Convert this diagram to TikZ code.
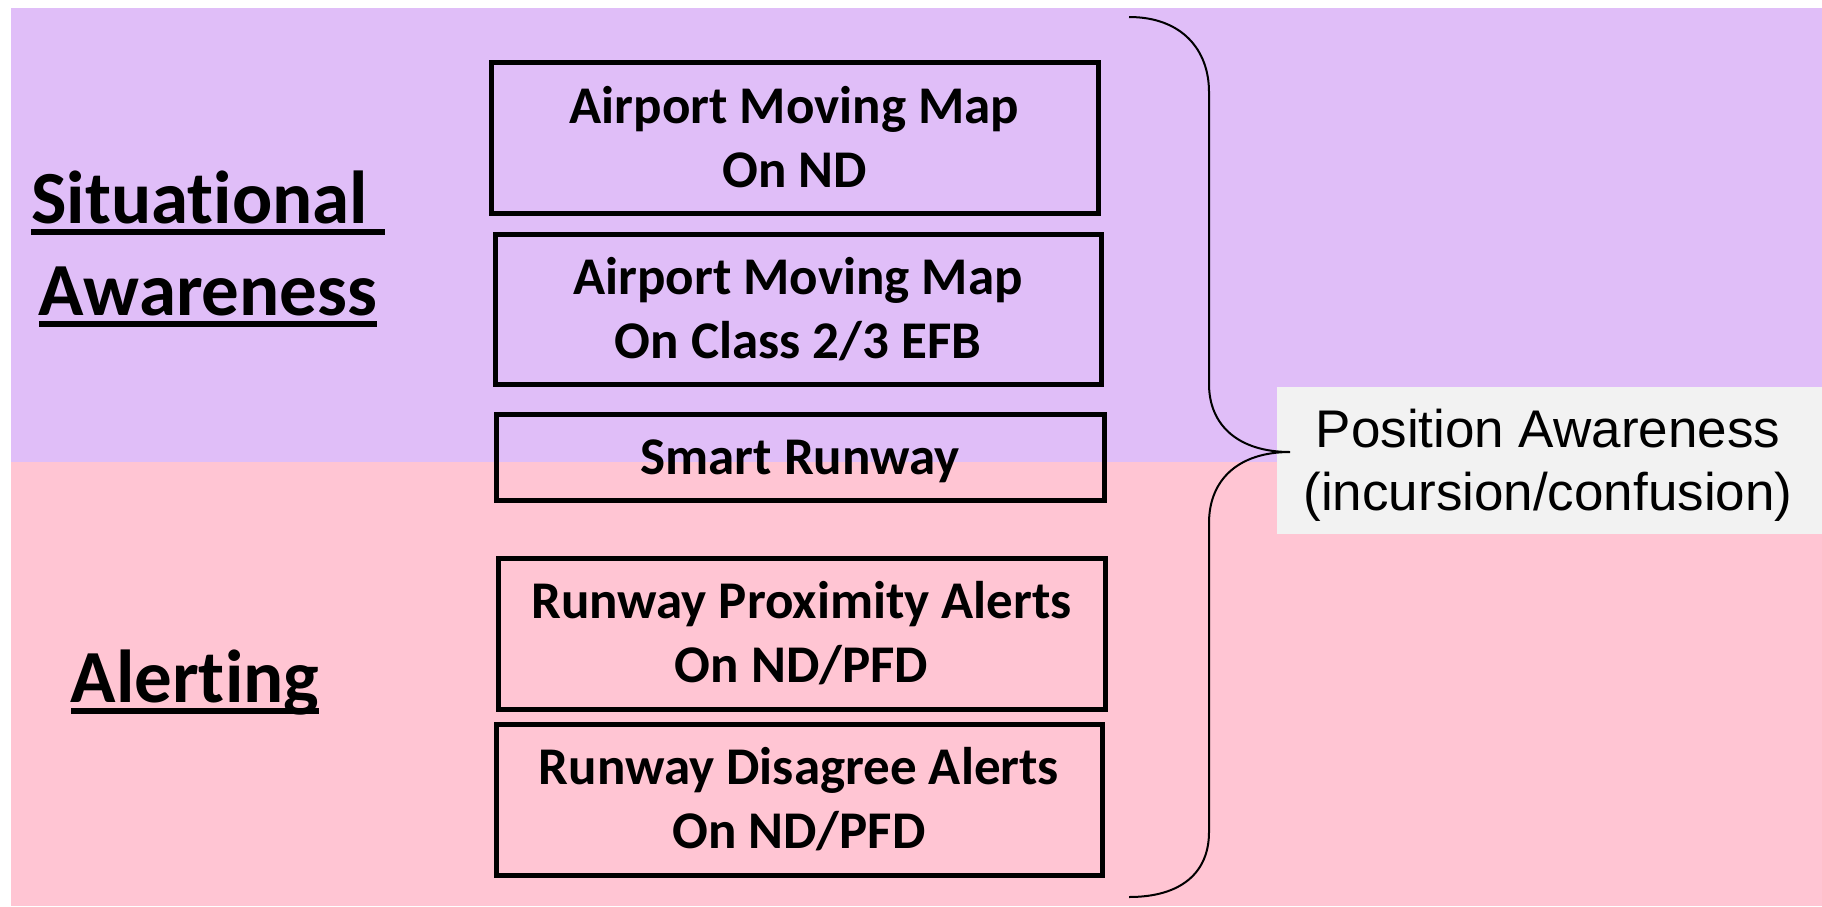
\documentclass[tikz,border=0pt]{standalone}
\usepackage{fontspec}
\setmainfont{Carlito}[Ligatures=NoCommon]
\newfontfamily\arialf{Liberation Sans}
\definecolor{bgpurple}{HTML}{E0BEF8}
\definecolor{bgpink}{HTML}{FFC5D3}
\definecolor{greybox}{HTML}{F2F2F2}
\newcommand\myul[1]{\setbox0=\hbox{#1}\rlap{\rule[-12pt]{\wd0}{6pt}}\box0}
\tikzset{
  itembox/.style={draw=black, line width=5pt, inner sep=0pt, align=center,
    font=\bfseries\fontsize{53}{64}\selectfont},
  heading/.style={inner sep=0pt, align=center, anchor=base,
    font=\bfseries\fontsize{75}{92}\selectfont},
  posbox/.style={fill=greybox, inner sep=0pt},
  postext/.style={inner sep=0pt, align=center,
    font=\arialf\fontsize{53}{63}\selectfont},
  bracestyle/.style={draw=black, line width=2pt}
}
\begin{document}
\begin{tikzpicture}[x=1pt, y=-1pt]
\useasboundingbox (0,0) rectangle (1822,906);
\fill[white] (0,0) rectangle (1822,906);
\fill[bgpurple] (11,8) rectangle (1822,462);
\fill[bgpink] (11,462) rectangle (1822,906);

\node[heading] (sa) at (208,315) {\myul{Situational\ }\\\myul{Awareness}};
\node[heading] (al) at (195,702) {\myul{Alerting}};

\node[itembox, minimum width=607pt, minimum height=151pt] (b1) at (794.5,137.5) {Airport Moving Map\\On ND};
\node[itembox, minimum width=606pt, minimum height=150pt] (b2) at (798,309) {Airport Moving Map\\On Class 2/3 EFB};
\node[itembox, minimum width=608pt, minimum height=86pt, text depth=0pt] (b3) at (800,457) {Smart Runway};
\node[itembox, minimum width=607pt, minimum height=151pt] (b4) at (801.5,633.5) {Runway Proximity Alerts\\On ND/PFD};
\node[itembox, minimum width=606pt, minimum height=151pt] (b5) at (799,799.5) {Runway Disagree Alerts\\On ND/PFD};

\node[posbox, minimum width=545pt, minimum height=147pt] (pa) at (1549.5,460.5) {};
\node[postext] (pat) at (1548,465.5) {Position Awareness\\(incursion/confusion)};

\coordinate (btop) at (1129,17);
\coordinate (btip) at (1290,452);
\coordinate (bbot) at (1129,897);
\draw[bracestyle] (btop) .. controls (1182,17) and (1209,50) .. (1209,92)
  -- (1209,384) .. controls (1209,425) and (1238,452) .. (btip)
  .. controls (1238,452) and (1209,480) .. (1209,523)
  -- (1209,832) .. controls (1209,872) and (1182,897) .. (bbot);
\end{tikzpicture}
\end{document}
